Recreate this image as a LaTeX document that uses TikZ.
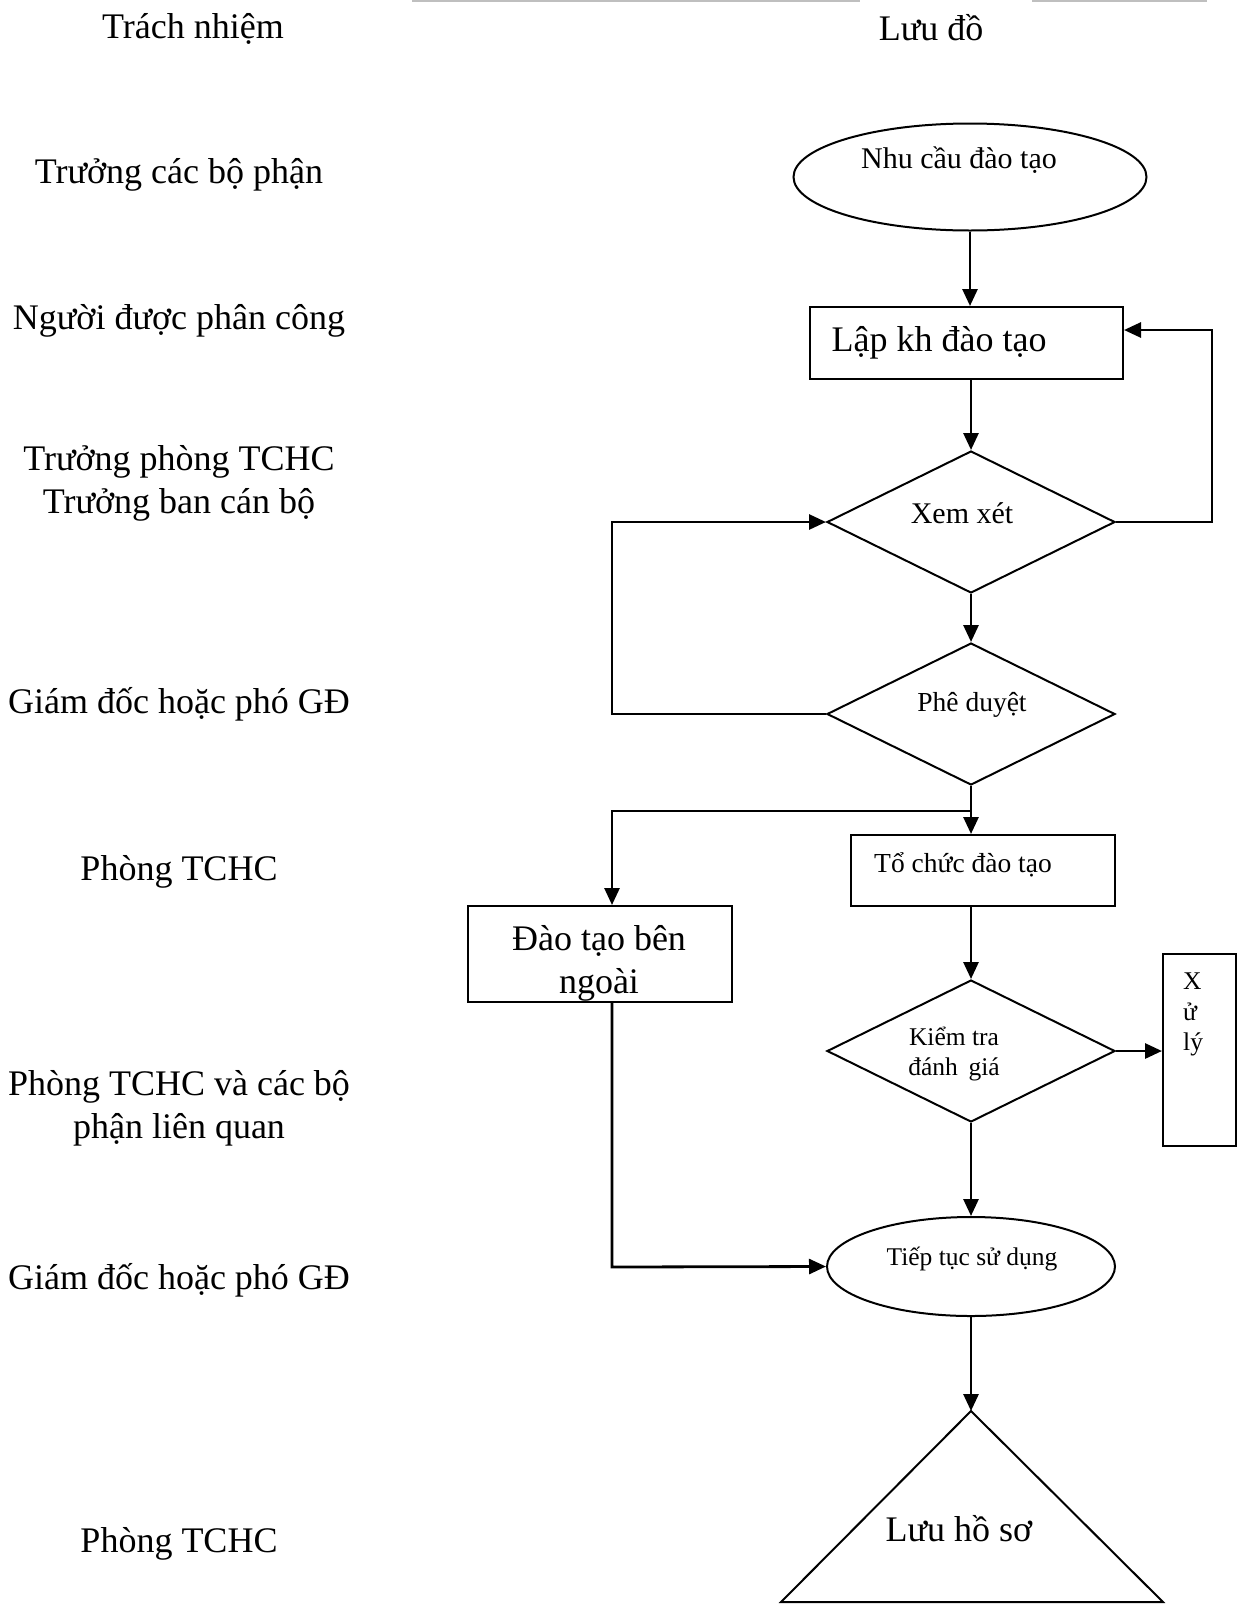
\documentclass[tikz,border=0pt]{standalone}
\usepackage{fontspec}
\setmainfont{Liberation Serif}
\usetikzlibrary{arrows.meta,shapes.geometric}

% text sizes used in the chart
\newcommand\fbig{\fontsize{36}{43}\selectfont}
\newcommand\fmid{\fontsize{30}{35}\selectfont}
\newcommand\fsml{\fontsize{27.5}{32}\selectfont}
\newcommand\ftny{\fontsize{25.5}{30.5}\selectfont}

\tikzset{
  shp/.style={draw=black, line width=2pt, inner sep=0pt},
  boxr/.style={shp, rectangle},
  dia/.style={shp, diamond, minimum width=288pt, minimum height=142pt},
  ell/.style={shp, ellipse},
  lbl/.style={inner sep=0pt, align=center},
  arr/.style={draw=black, line width=2.8pt, -{Triangle[length=17pt,width=15pt]}},
  ln/.style={draw=black, line width=2.8pt},
  rule/.style={draw=black!25, line width=2pt}
}

\begin{document}
\begin{tikzpicture}[x=1pt,y=-1pt]
\useasboundingbox (0,0) rectangle (1243,1604);

% header rules
\draw[rule] (412,1) -- (860,1);
\draw[rule] (1032,1) -- (1207,1);

% column headings
\node[lbl, font=\fbig] (hResp) at (193,29) {Trách nhiệm};
\node[lbl, font=\fbig] (hFlow) at (931,28) {Lưu đồ};

% responsibility column
\node[lbl, font=\fbig] (r1) at (179,175) {Trưởng các bộ phận};
\node[lbl, font=\fbig] (r2) at (179,321) {Người được phân công};
\node[lbl, font=\fbig] (r3) at (179,483) {Trưởng phòng TCHC\\Trưởng ban cán bộ};
\node[lbl, font=\fbig] (r4) at (179,704) {Giám đốc hoặc phó GĐ};
\node[lbl, font=\fbig] (r5) at (179,872) {Phòng TCHC};
\node[lbl, font=\fbig] (r6) at (179,1108) {Phòng TCHC và các bộ\\phận liên quan};
\node[lbl, font=\fbig] (r7) at (179,1280) {Giám đốc hoặc phó GĐ};
\node[lbl, font=\fbig] (r8) at (179,1544) {Phòng TCHC};

% flowchart shapes
\node[ell, minimum width=353pt, minimum height=107pt] (nhu) at (970,177) {};
\node[lbl, font=\fmid] (nhuT) at (959,160) {Nhu cầu đào tạo};

\node[boxr, minimum width=313pt, minimum height=72pt] (lap) at (966.5,343) {};
\node[lbl, font=\fbig] (lapT) at (939,343) {Lập kh đào tạo};

\node[dia] (xem) at (971,522) {};
\node[lbl, font=\fmid] (xemT) at (962,513) {Xem xét};

\node[dia] (phe) at (971,714) {};
\node[lbl, font=\fsml] (pheT) at (972,705) {Phê duyệt};

\node[boxr, minimum width=264pt, minimum height=71pt] (tochuc) at (983,870.5) {};
\node[lbl, font=\fsml] (tochucT) at (963,865) {Tổ chức đào tạo};

\node[boxr, minimum width=264pt, minimum height=96pt] (ngoai) at (600,954) {};
\begin{scope}
  \clip (468,906) rectangle (732,1002);
  \node[lbl, font=\fbig] (ngoaiT) at (599,963) {Đào tạo bên\\ngoài};
\end{scope}

\node[dia] (kiem) at (971,1051) {};
\node[lbl, font=\ftny] (kiemT) at (954,1054) {Kiểm tra\\đánh\ \,giá};

\node[boxr, minimum width=73pt, minimum height=192pt] (xuly) at (1199.5,1050) {};
\node[lbl, font=\ftny, anchor=north west, align=left] (xulyT) at (1183,973)
  {X\\ử\\lý};

\node[ell, minimum width=288pt, minimum height=99pt] (tiep) at (971,1266.5) {};
\node[lbl, font=\ftny] (tiepT) at (972,1259) {Tiếp tục sử dụng};

\coordinate (luuTop) at (971,1411);
\coordinate (luuL) at (781,1602);
\coordinate (luuR) at (1163,1602);
\draw[line width=2pt, line join=miter] (luuTop) -- (luuR) -- (luuL) -- cycle;
\node[lbl, font=\fbig] (luuT) at (959,1529) {Lưu hồ sơ};

% connectors
\coordinate (fbB) at (1212,522);
\coordinate (fbT) at (1212,330);
\coordinate (lpB) at (612,714);
\coordinate (lpT) at (612,522);
\coordinate (junc) at (971,811);
\coordinate (jL) at (612,811);
\coordinate (exB) at (612,1267);

\draw[arr] (nhu.south) -- (nhu.south |- lap.north);
\draw[arr] (lap.south -| xem.north) -- (xem.north);
\draw[arr, line join=miter] (xem.east) -- (fbB) -- (fbT) -- (lap.east |- fbT);
\draw[arr] (xem.south) -- (phe.north);
\draw[arr, line join=miter] (phe.west) -- (lpB) -- (lpT) -- (xem.west);
\draw[ln] (phe.south) -- (junc);
\draw[arr] (junc) -- (junc |- tochuc.north);
\draw[arr, line join=miter] (junc) -- (jL) -- (ngoai.north -| jL);
\draw[arr] (tochuc.south -| kiem.north) -- (kiem.north);
\draw[arr] (kiem.east) -- (xuly.west |- kiem.east);
\draw[arr] (kiem.south) -- (tiep.north);
\draw[arr, line join=miter] (ngoai.south -| exB) -- (exB) -- (tiep.west);
\draw[arr] (tiep.south) -- (luuTop);

\end{tikzpicture}
\end{document}
